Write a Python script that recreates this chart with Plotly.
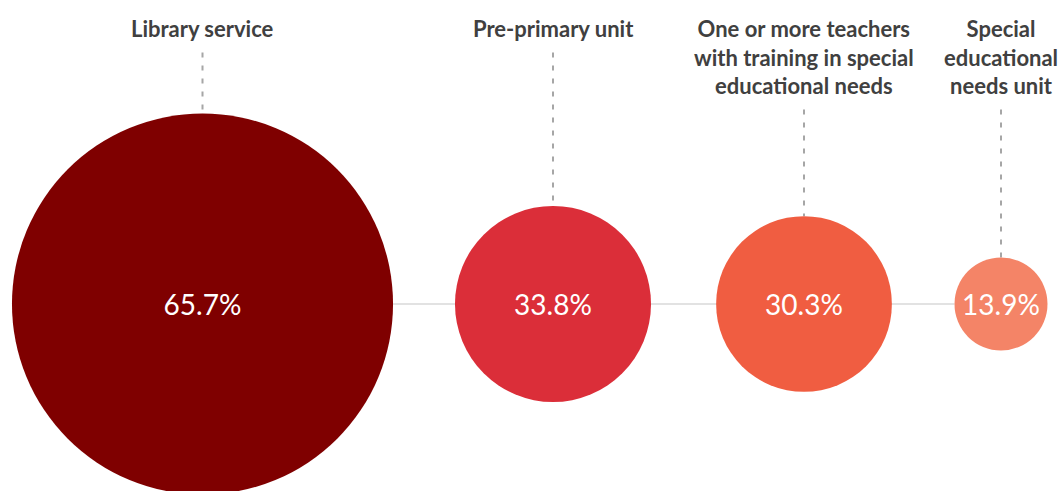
import plotly.graph_objects as go

# ---- data ----
categories = [
    "Library service",
    "Pre-primary unit",
    "One or more teachers<br>with training in special<br>educational needs",
    "Special<br>educational<br>needs unit",
]
values = [65.7, 33.8, 30.3, 13.9]
value_labels = ["65.7%", "33.8%", "30.3%", "13.9%"]
colors = ["#7f0000", "#db2e39", "#f05d41", "#f48467"]

# ---- layout helpers (pixel coordinate system) ----
W, H = 1063, 491
x_pos = [202.5, 553, 804, 1001]
y_center = 304
px_per_unit_radius = 2.9
min_diameter = 93
label_top = 13
label_line_h = 28.5
label_lines = [c.count("<br>") + 1 for c in categories]

diam = [max(v * 2 * px_per_unit_radius, min_diameter) for v in values]
radius = [d / 2 for d in diam]

fig = go.Figure()

# horizontal connector
fig.add_trace(go.Scatter(
    x=[x_pos[0] + radius[0], x_pos[-1] - radius[-1]], y=[y_center, y_center],
    mode="lines", line=dict(color="#d9d9d9", width=1.5), hoverinfo="skip", showlegend=False))

# dashed leader lines
for xp, r, n in zip(x_pos, radius, label_lines):
    y0 = label_top + n * label_line_h + 11
    fig.add_trace(go.Scatter(
        x=[xp, xp], y=[y0, y_center - r],
        mode="lines", line=dict(color="#a6a6a6", width=2, dash="5px,8px"),
        hoverinfo="skip", showlegend=False))

# bubbles (plotly's sizemin is compared against the radius)
fig.add_trace(go.Scatter(
    x=x_pos, y=[y_center] * len(values),
    mode="markers",
    marker=dict(size=values, sizemode="diameter", sizeref=1 / (2 * px_per_unit_radius),
                sizemin=min_diameter / 2, color=colors, opacity=1, line=dict(width=0)),
    hoverinfo="skip", showlegend=False))

# value labels
fig.add_trace(go.Scatter(
    x=x_pos, y=[y_center + 4] * len(values),
    mode="text", text=value_labels, textposition="middle center",
    textfont=dict(family="Lato", size=28, color="white"),
    hoverinfo="skip", showlegend=False))

# category labels
for xp, c in zip(x_pos, categories):
    fig.add_annotation(x=xp, y=label_top, text=c, showarrow=False,
                       xanchor="center", yanchor="top", align="center",
                       font=dict(family="Lato", size=22, color="#404040", weight="bold"))

fig.update_layout(
    width=W, height=H, margin=dict(l=0, r=0, t=0, b=0),
    paper_bgcolor="white", plot_bgcolor="white",
    xaxis=dict(range=[0, W], visible=False, fixedrange=True),
    yaxis=dict(range=[H, 0], visible=False, fixedrange=True),
)

fig.write_html("out.html")
